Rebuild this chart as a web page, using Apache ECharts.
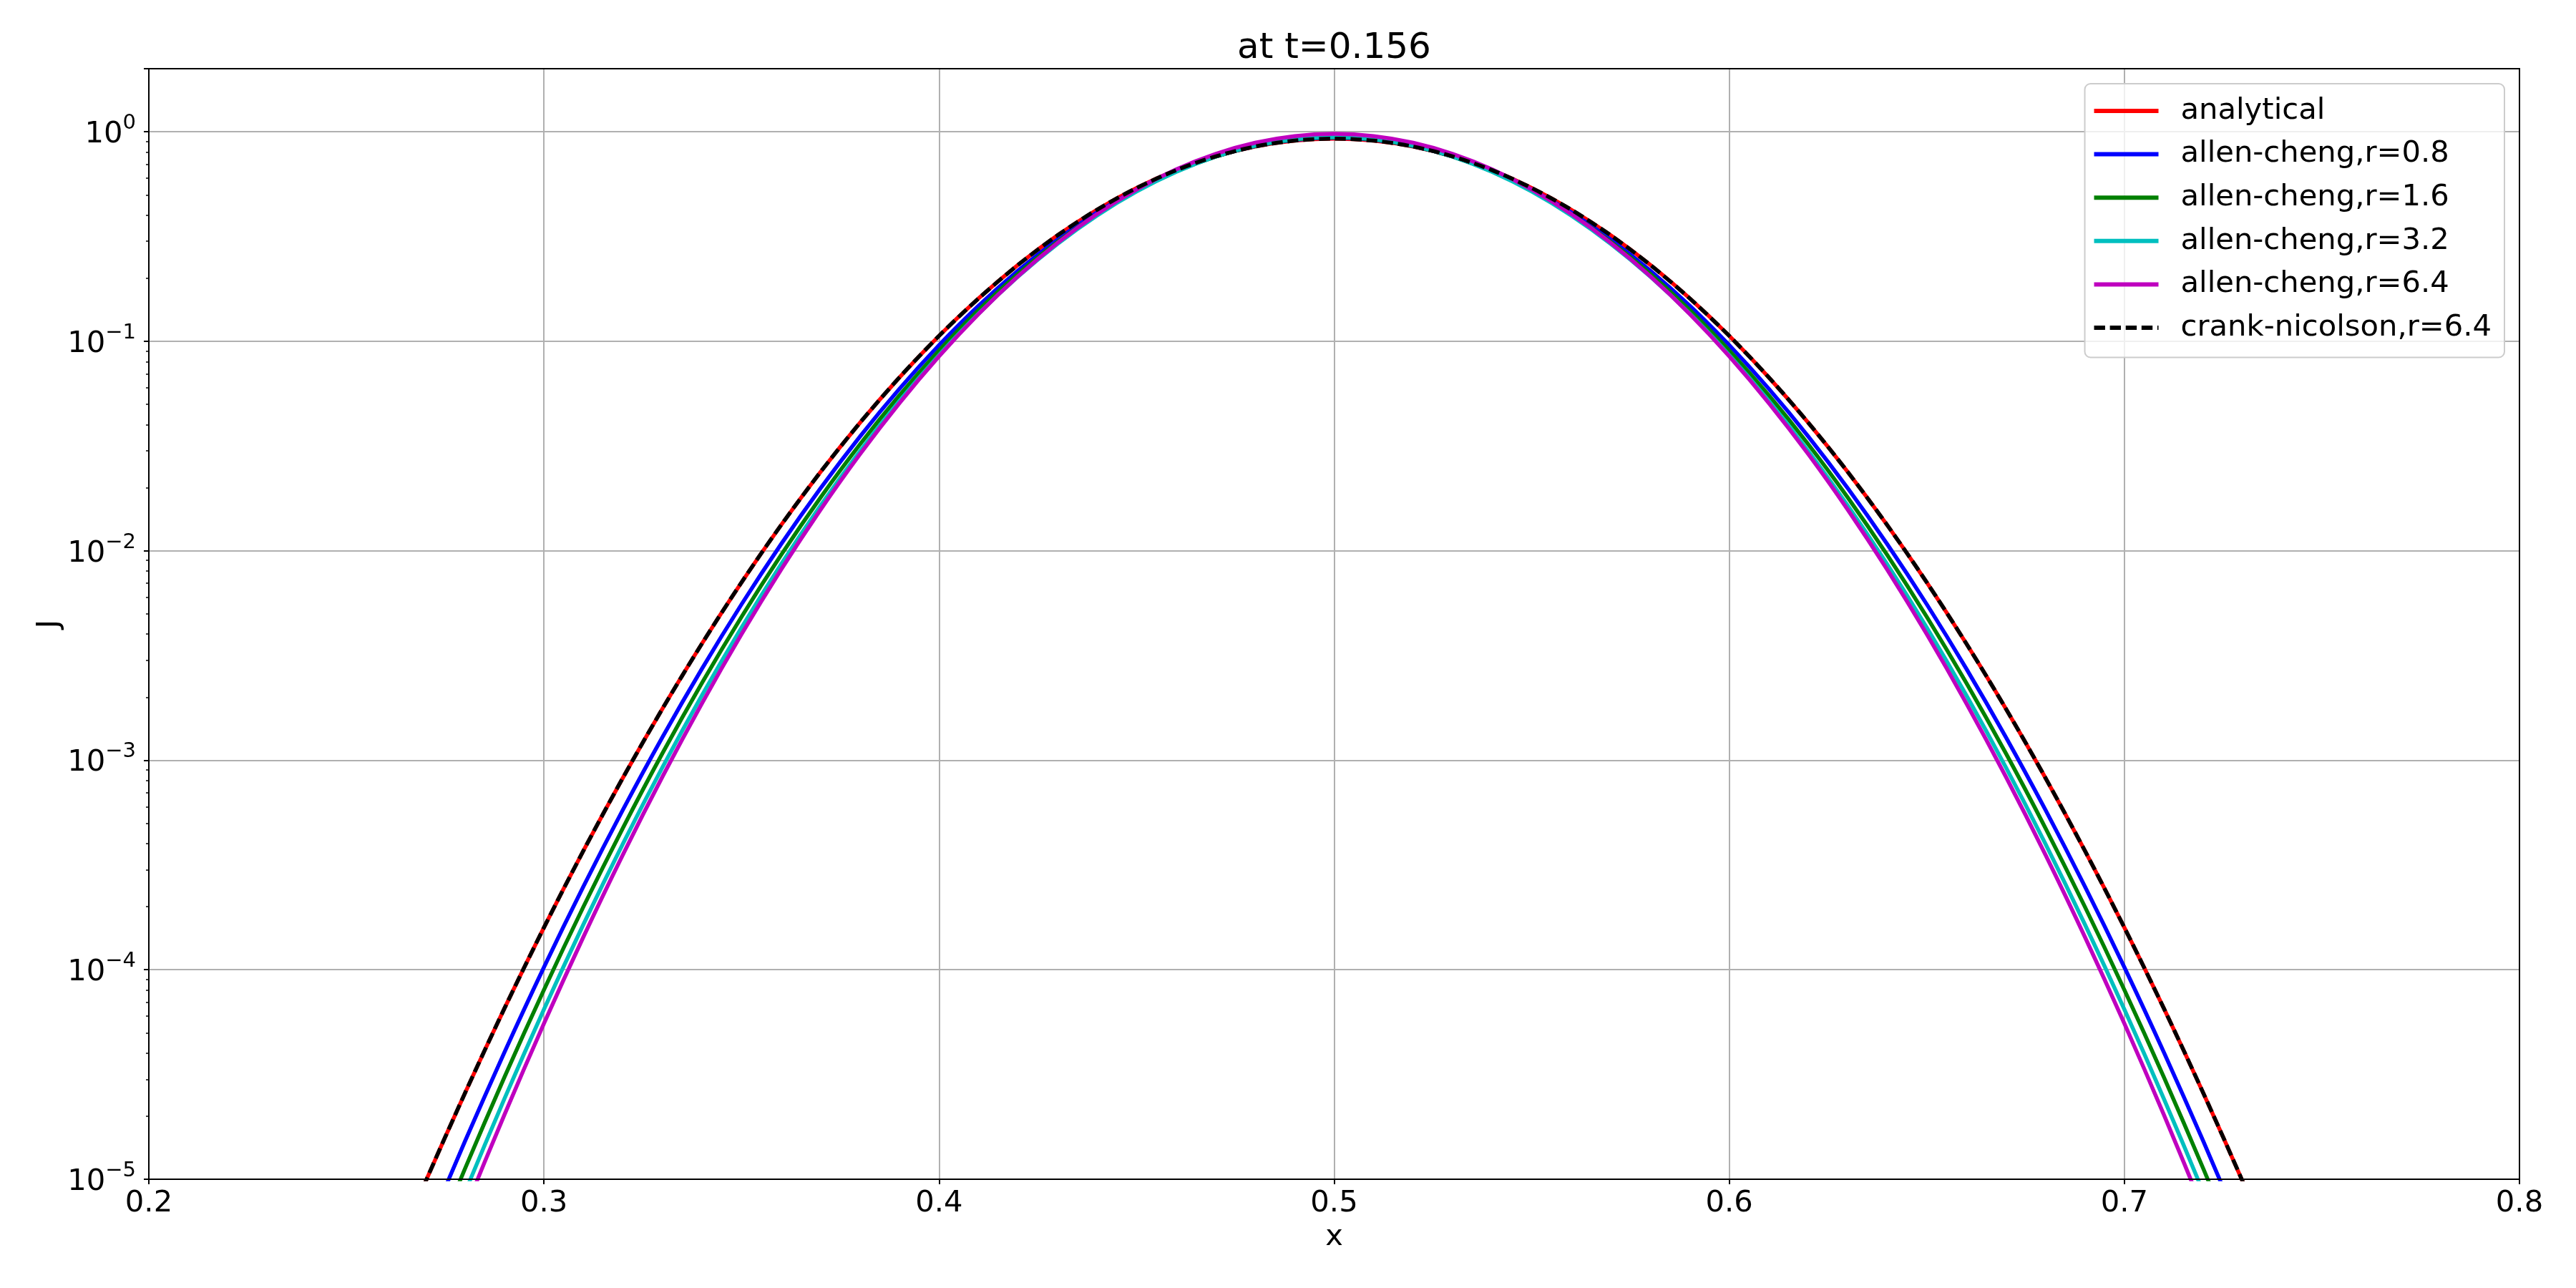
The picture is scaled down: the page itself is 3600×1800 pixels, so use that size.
<!DOCTYPE html>
<html>
<head>
<meta charset="utf-8">
<script src="https://cdn.jsdelivr.net/npm/echarts@6/dist/echarts.min.js"></script>
<style>html,body{margin:0;padding:0;background:#fff;}#c{width:3600px;height:1800px;}</style>
</head>
<body>
<div id="c"></div>
<script>
// ---- data ----
const titleText = 'at t=0.156';
const xLabel = 'x';
const yLabel = 'J';
const xs = [0.26,0.27,0.28,0.29,0.30,0.31,0.32,0.33,0.34,0.35,0.36,0.37,0.38,0.39,0.40,0.41,0.42,0.43,0.44,0.45,0.46,0.47,0.48,0.49,0.50,
            0.51,0.52,0.53,0.54,0.55,0.56,0.57,0.58,0.59,0.60,0.61,0.62,0.63,0.64,0.65,0.66,0.67,0.68,0.69,0.70,0.71,0.72,0.73,0.74];
const seriesNames = ['analytical','allen-cheng,r=0.8','allen-cheng,r=1.6','allen-cheng,r=3.2','allen-cheng,r=6.4','crank-nicolson,r=6.4'];
const analytical = [3.504e-6,9.705e-6,2.574e-5,6.537e-5,1.590e-4,3.703e-4,8.258e-4,1.763e-3,3.606e-3,7.061e-3,0.01324,0.02377,0.04087,0.06729,0.1061,0.1601,0.2315,0.3204,0.4247,0.5391,0.6552,0.7626,0.8498,0.9070,0.9268,
                    0.9070,0.8498,0.7626,0.6552,0.5391,0.4247,0.3204,0.2315,0.1601,0.1061,0.06729,0.04087,0.02377,0.01324,7.061e-3,3.606e-3,1.763e-3,8.258e-4,3.703e-4,1.590e-4,6.537e-5,2.574e-5,9.705e-6,3.504e-6];
const ac08 = [1.861e-6,5.432e-6,1.515e-5,4.036e-5,1.028e-4,2.499e-4,5.808e-4,1.290e-3,2.736e-3,5.546e-3,0.01074,0.01987,0.03513,0.05934,0.09576,0.1477,0.2175,0.3062,0.4118,0.5291,0.6496,0.7619,0.8539,0.9143,0.9354,
              0.9143,0.8539,0.7619,0.6496,0.5291,0.4118,0.3062,0.2175,0.1477,0.09576,0.05934,0.03513,0.01987,0.01074,5.546e-3,2.736e-3,1.290e-3,5.808e-4,2.499e-4,1.028e-4,4.036e-5,1.515e-5,5.432e-6,1.861e-6];
const ac16 = [1.300e-6,3.908e-6,1.121e-5,3.070e-5,8.020e-5,1.999e-4,4.756e-4,1.080e-3,2.339e-3,4.834e-3,9.535e-3,0.01794,0.03223,0.05523,0.09032,0.1410,0.2099,0.2982,0.4044,0.5232,0.6460,0.7611,0.8557,0.9180,0.9397,
              0.9180,0.8557,0.7611,0.6460,0.5232,0.4044,0.2982,0.2099,0.1410,0.09032,0.05523,0.03223,0.01794,9.535e-3,4.834e-3,2.339e-3,1.080e-3,4.756e-4,1.999e-4,8.020e-5,3.070e-5,1.121e-5,3.908e-6,1.300e-6];
const ac32 = [9.525e-7,2.938e-6,8.641e-6,2.422e-5,6.471e-5,1.648e-4,4.001e-4,9.258e-4,2.042e-3,4.293e-3,8.603e-3,0.01643,0.02992,0.05193,0.08590,0.1355,0.2036,0.2917,0.3983,0.5185,0.6433,0.7609,0.8578,0.9217,0.9441,
              0.9217,0.8578,0.7609,0.6433,0.5185,0.3983,0.2917,0.2036,0.1355,0.08590,0.05193,0.02992,0.01643,8.603e-3,4.293e-3,2.042e-3,9.258e-4,4.001e-4,1.648e-4,6.471e-5,2.422e-5,8.641e-6,2.938e-6,9.525e-7];
const ac64 = [7.492e-7,2.364e-6,7.102e-6,2.032e-5,5.536e-5,1.436e-4,3.549e-4,8.350e-4,1.871e-3,3.992e-3,8.111e-3,0.01569,0.02892,0.05074,0.08478,0.1349,0.2044,0.2950,0.4053,0.5304,0.6609,0.7842,0.8862,0.9536,0.9772,
              0.9536,0.8862,0.7842,0.6609,0.5304,0.4053,0.2950,0.2044,0.1349,0.08478,0.05074,0.02892,0.01569,8.111e-3,3.992e-3,1.871e-3,8.350e-4,3.549e-4,1.436e-4,5.536e-5,2.032e-5,7.102e-6,2.364e-6,7.492e-7];
const cn64 = [3.504e-6,9.705e-6,2.574e-5,6.537e-5,1.590e-4,3.703e-4,8.258e-4,1.763e-3,3.606e-3,7.061e-3,0.01324,0.02377,0.04087,0.06729,0.1061,0.1601,0.2315,0.3204,0.4247,0.5391,0.6552,0.7626,0.8498,0.9070,0.9268,
              0.9070,0.8498,0.7626,0.6552,0.5391,0.4247,0.3204,0.2315,0.1601,0.1061,0.06729,0.04087,0.02377,0.01324,7.061e-3,3.606e-3,1.763e-3,8.258e-4,3.703e-4,1.590e-4,6.537e-5,2.574e-5,9.705e-6,3.504e-6];
const xMin = 0.2, xMax = 0.8, xStep = 0.1;
const yMin = 1e-5, yMax = 2;

// ---- styling / layout ----
const FONT = 'DejaVu Sans';
const colors = ['#ff0000','#0000ff','#008000','#00bfbf','#bf00bf','#000000'];
const allData = [analytical, ac08, ac16, ac32, ac64, cn64];
const G = {left: 208, right: 79, top: 96, bottom: 152};
const plotCx = G.left + (3600 - G.left - G.right) / 2;
const plotCy = G.top + (1800 - G.top - G.bottom) / 2;
const LW = 5.5;

// minor ticks for the log axis (axis decoration)
const minorTicks = [];
for (let e = -5; e <= 0; e++) {
  for (let m = 2; m <= 9; m++) {
    const v = m * Math.pow(10, e);
    if (v <= yMax) minorTicks.push(v);
  }
}

const solidIcon = 'path://M0,0L90,0L90,6L0,6Z';
const dashedIcon = 'path://M0,0L15.4,0L15.4,6L0,6Z M22.1,0L37.5,0L37.5,6L22.1,6Z M44.2,0L59.6,0L59.6,6L44.2,6Z M66.3,0L81.7,0L81.7,6L66.3,6Z M88.4,0L90,0L90,6L88.4,6Z';

const series = allData.map((arr, i) => ({
  name: seriesNames[i],
  type: 'line',
  data: xs.map((x, j) => [x, arr[j]]),
  showSymbol: false,
  symbol: 'none',
  smooth: 0.3,
  clip: true,
  z: 2 + i,
  itemStyle: {color: colors[i]},
  lineStyle: {color: colors[i], width: LW, type: i === 5 ? [15.4, 6.7] : 'solid', cap: 'butt', join: 'round'},
  emphasis: {disabled: true},
  animation: false
}));

const chart = echarts.init(document.getElementById('c'), null, {renderer: 'canvas'});
chart.setOption({
  animation: false,
  backgroundColor: '#ffffff',
  grid: {left: G.left, right: G.right, top: G.top, bottom: G.bottom, show: true, borderColor: '#000', borderWidth: 2, backgroundColor: 'transparent', z: 10},
  legend: {
    right: 100, top: 117,
    orient: 'vertical',
    align: 'left',
    itemWidth: 90, itemHeight: 6, itemGap: 12.6,
    padding: [14, 18, 17.5, 13],
    backgroundColor: 'rgba(255,255,255,0.8)',
    borderColor: '#cccccc', borderWidth: 2, borderRadius: 8,
    textStyle: {fontFamily: FONT, fontSize: 41.7, color: '#000', lineHeight: 48, padding: [0, 0, 0, 26]},
    data: seriesNames.map((n, i) => ({name: n, icon: i === 5 ? dashedIcon : solidIcon, itemStyle: {color: colors[i]}})),
    selectedMode: false,
    z: 20
  },
  xAxis: {
    type: 'value', min: xMin, max: xMax, interval: xStep,
    axisLine: {show: true, onZero: false, lineStyle: {color: '#000', width: 2}},
    axisTick: {show: true, length: 7, lineStyle: {color: '#000', width: 2}},
    axisLabel: {fontFamily: FONT, fontSize: 41.7, color: '#000', margin: 13, formatter: v => v.toFixed(1)},
    splitLine: {show: true, lineStyle: {color: '#b0b0b0', width: 2}}
  },
  yAxis: [{
    type: 'log', logBase: 10, min: yMin, max: yMax,
    axisLine: {show: true, lineStyle: {color: '#000', width: 2}},
    axisTick: {show: true, length: 7, lineStyle: {color: '#000', width: 2}},
    axisLabel: {
      margin: 18,
      formatter: function (v) {
        const l = Math.log10(v);
        const e = Math.round(l);
        if (Math.abs(l - e) > 1e-6) return '';
        const s = e < 0 ? '\u2212' + (-e) : String(e);
        return '{b|10}{s|' + s + '}';
      },
      rich: {
        b: {fontFamily: FONT, fontSize: 41.7, color: '#000', lineHeight: 50, verticalAlign: 'bottom'},
        s: {fontFamily: FONT, fontSize: 29, color: '#000', lineHeight: 29, verticalAlign: 'bottom', padding: [0, 0, 22, 0]}
      }
    },
    splitLine: {show: true, lineStyle: {color: '#b0b0b0', width: 2}}
  }, {
    type: 'log', logBase: 10, min: yMin, max: yMax, position: 'left',
    axisLine: {show: false},
    axisTick: {show: true, length: 4, customValues: minorTicks, lineStyle: {color: '#000', width: 1.5}},
    axisLabel: {show: false},
    splitLine: {show: false}
  }],
  graphic: [
    {type: 'text', x: plotCx, y: 68, style: {text: titleText, fontFamily: FONT, fontSize: 50, fill: '#000', textAlign: 'center', textVerticalAlign: 'middle'}},
    {type: 'text', x: plotCx, y: 1729, style: {text: xLabel, fontFamily: FONT, fontSize: 41.7, fill: '#000', textAlign: 'center', textVerticalAlign: 'middle'}},
    {type: 'text', x: 69, y: plotCy, rotation: Math.PI / 2, style: {text: yLabel, fontFamily: FONT, fontSize: 41.7, fill: '#000', textAlign: 'center', textVerticalAlign: 'middle'}}
  ],
  series: series
});
</script>
</body>
</html>
